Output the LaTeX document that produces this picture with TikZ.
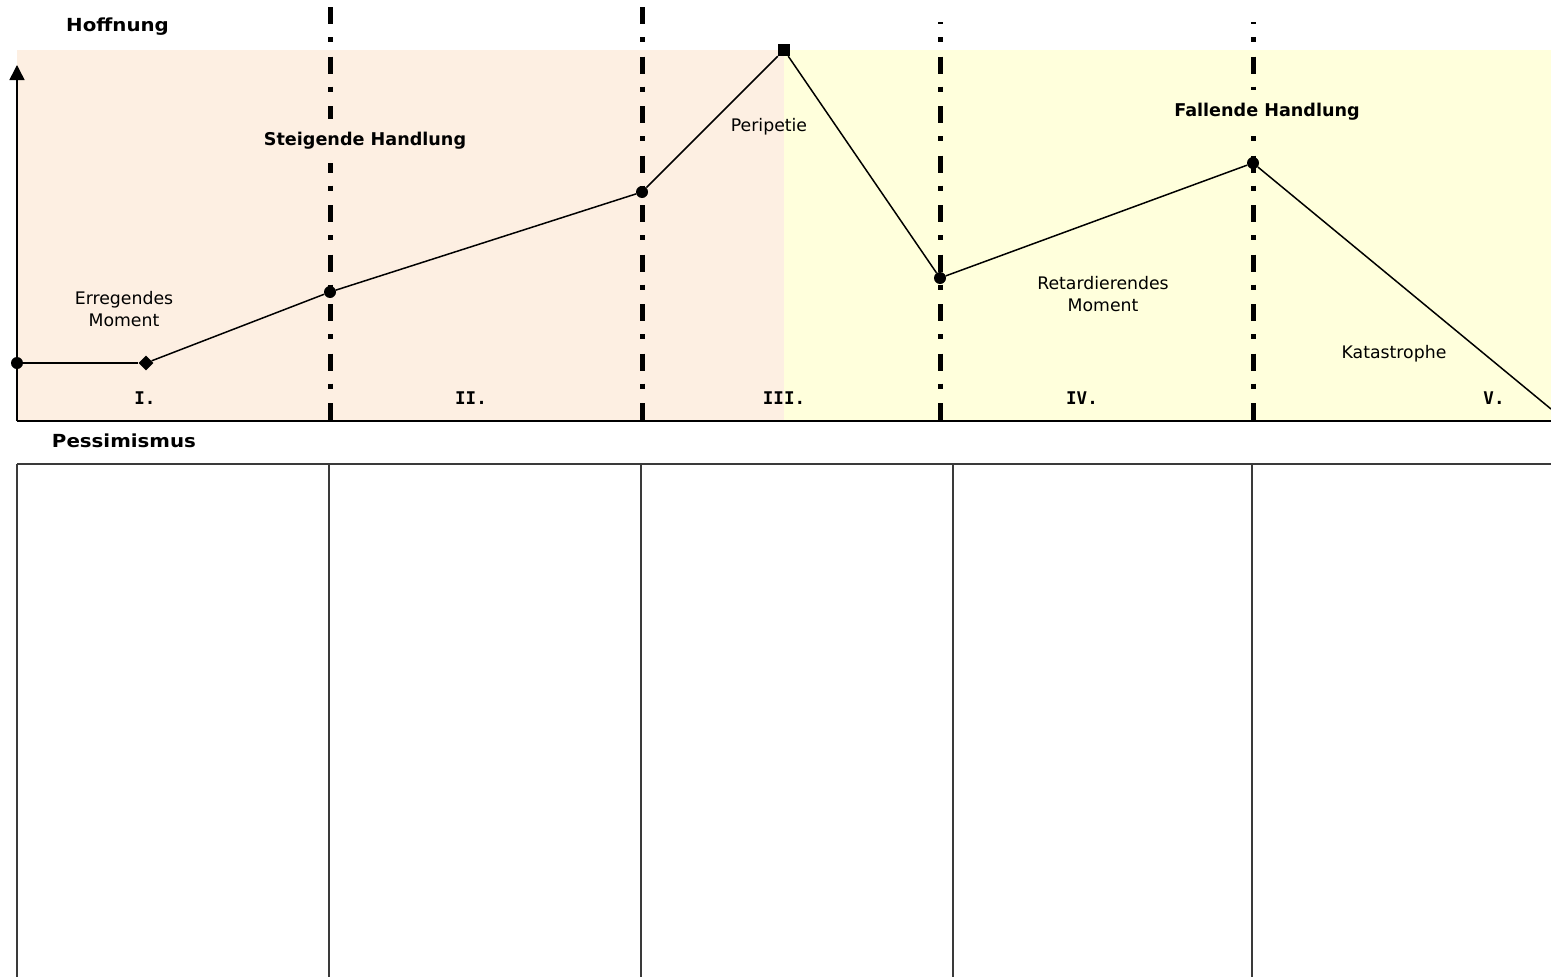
\documentclass[tikz,border=0pt]{standalone}
\usepackage{fontspec}
\setmainfont{DejaVu Sans}
\newfontfamily\widesans{DejaVu Sans}[FakeStretch=1.1]
\newfontfamily\numfont{DejaVu Sans Mono}
\usetikzlibrary{shapes.geometric,arrows.meta}
\definecolor{peach}{HTML}{FDEFE2}
\definecolor{cream}{HTML}{FFFFDC}
\definecolor{boxline}{HTML}{3A3A3A}
\begin{document}
\begin{tikzpicture}[x=1pt,y=-1pt,
  lbl/.style={font=\fontsize{17.3}{21.5}\selectfont, align=center, inner sep=0pt},
  blbl/.style={font=\widesans\bfseries\fontsize{18}{22}\selectfont, align=center, inner sep=0pt},
  hlbl/.style={font=\bfseries\fontsize{17.6}{22}\selectfont, align=center, inner sep=0pt, inner xsep=4pt, minimum height=44pt},
  numlbl/.style={font=\numfont\bfseries\fontsize{17.5}{20}\selectfont, inner sep=0pt},
  dotnode/.style={circle, fill=black, minimum size=12pt, inner sep=0pt},
  diamnode/.style={diamond, fill=black, minimum size=15pt, inner sep=0pt},
  sqnode/.style={rectangle, fill=black, minimum size=12pt, inner sep=0pt},
  actline/.style={line width=5pt, dash pattern=on 17pt off 13pt on 5pt off 14.5pt},
  plotline/.style={line width=1.5pt},
  axisline/.style={line width=1.5pt},
  boxrule/.style={line width=2.2pt, draw=boxline}]
\path[use as bounding box] (0,0) rectangle (1551,977);
% backgrounds
\fill[peach] (17,50) rectangle (784,421);
\fill[cream] (784,50) rectangle (1551,421);
% act separators
\coordinate (a1t) at (330,7);   \coordinate (a1b) at (330,421);
\coordinate (a2t) at (642,7);   \coordinate (a2b) at (642,421);
\coordinate (a3t) at (940,22);  \coordinate (a3b) at (940,421);
\coordinate (a4t) at (1253,22); \coordinate (a4b) at (1253,421);
\draw[actline] (a1t) -- (a1b);
\draw[actline] (a2t) -- (a2b);
\draw[actline, dash phase=15pt] (a3t) -- (a3b);
\draw[actline, dash phase=15pt] (a4t) -- (a4b);
% axes
\coordinate (origin) at (17,421);
\coordinate (ytop) at (17,65);
\coordinate (xend) at (1551,421);
\draw[axisline, -{Triangle[width=15pt,length=15pt]}] (origin) -- (ytop);
\draw[axisline] (origin) -- (xend);
% plot points
\node[dotnode]  (p0) at (17,363) {};
\node[diamnode] (p1) at (146,363) {};
\node[dotnode]  (p2) at (330,292) {};
\node[dotnode]  (p3) at (642,192) {};
\node[sqnode]   (p4) at (784,50) {};
\node[dotnode]  (p5) at (940,278) {};
\node[dotnode]  (p6) at (1253,163) {};
\coordinate (p7) at (1551,409);
\draw[plotline] (p0) -- (p1);
\draw[plotline] (p1) -- (p2);
\draw[plotline] (p2) -- (p3);
\draw[plotline] (p3) -- (p4);
\draw[plotline] (p4) -- (p5);
\draw[plotline] (p5) -- (p6);
\draw[plotline] (p6) -- (p7);
% labels
\node[blbl, anchor=west] (hoff) at (66,27) {Hoffnung};
\node[hlbl, fill=peach] (steig) at (365,141) {Steigende Handlung};
\node[lbl] (peri) at (769,127) {Peripetie};
\node[hlbl, fill=cream] (fall) at (1267,112) {Fallende Handlung};
\node[lbl] (erreg) at (124,309) {Erregendes\\Moment};
\node[lbl] (retard) at (1103,294) {Retardierendes\\Moment};
\node[lbl] (kata) at (1394,354) {Katastrophe};
\node[numlbl] (r1) at (145,398) {I.};
\node[numlbl] (r2) at (471,398) {II.};
\node[numlbl] (r3) at (784,398) {III.};
\node[numlbl] (r4) at (1082,398) {IV.};
\node[numlbl] (r5) at (1494,398) {V.};
\node[blbl] (pess) at (124,441) {Pessimismus};
% lower boxes
\coordinate (bt0) at (17,464);   \coordinate (bb0) at (17,977);
\coordinate (bt1) at (329,464);  \coordinate (bb1) at (329,977);
\coordinate (bt2) at (641,464);  \coordinate (bb2) at (641,977);
\coordinate (bt3) at (953,464);  \coordinate (bb3) at (953,977);
\coordinate (bt4) at (1252,464); \coordinate (bb4) at (1252,977);
\coordinate (bt5) at (1551,464);
\draw[boxrule] (bt0) -- (bt5);
\draw[boxrule] (bt0) -- (bb0);
\draw[boxrule] (bt1) -- (bb1);
\draw[boxrule] (bt2) -- (bb2);
\draw[boxrule] (bt3) -- (bb3);
\draw[boxrule] (bt4) -- (bb4);
\end{tikzpicture}
\end{document}
